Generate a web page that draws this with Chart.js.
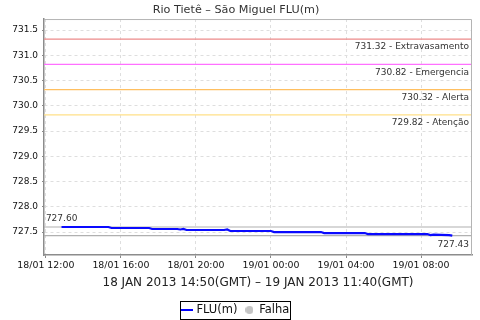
<!DOCTYPE html>
<html>
<head>
<meta charset="utf-8">
<script src="https://cdn.jsdelivr.net/npm/chart.js@4/dist/chart.umd.min.js"></script>
<style>
body{margin:0;background:#fff;}
</style>
</head>
<body>
<canvas id="chart" width="480" height="320"></canvas>
<script>
// Readings: minutes from 18/01 00:00 (local), level in m
const times  = [770, 920, 930, 1050, 1060, 1140, 1150, 1160, 1170, 1290, 1300, 1310, 1440, 1450, 1600, 1610, 1740, 1750, 1940, 1950, 1960, 2010, 2020];
const levels = [727.60, 727.60, 727.58, 727.58, 727.56, 727.56, 727.55, 727.56, 727.54, 727.54, 727.55, 727.52, 727.52, 727.50, 727.50, 727.48, 727.48, 727.46, 727.46, 727.44, 727.45, 727.44, 727.43];

// Limit lines
const limitValues = [731.32, 730.82, 730.32, 729.82];
const limitNames  = ["Extravasamento", "Emergencia", "Alerta", "Atenção"];
const limitColors = ["#ec8a8a", "#ff70ff", "#ffbf60", "#ffe088"];
const maxLevel = 727.60;
const minLevel = 727.43;

// Axes
const yTicks = [727.5, 728.0, 728.5, 729.0, 729.5, 730.0, 730.5, 731.0, 731.5];
const xTicks = [720, 960, 1200, 1440, 1680, 1920];
const xMin = 714, xMax = 2083;
const yMin = 727.045, yMax = 731.718;

const FONT = "'DejaVu Sans', sans-serif";

// Small legend icons
function icon(w, h, draw){
  const c = document.createElement("canvas");
  c.width = w; c.height = h;
  draw(c.getContext("2d"));
  return c;
}
const lineIcon = icon(12, 2, g=>{ g.fillStyle="#0000ff"; g.fillRect(0,0,12,2); });
const dotIcon = icon(8, 8, g=>{ g.fillStyle="#c4c4c4"; g.beginPath(); g.arc(4,4,4,0,Math.PI*2); g.fill(); });

function fmtTime(m){
  const day = 18 + Math.floor(m/1440);
  const h = Math.floor((m%1440)/60), mm = m%60;
  return day + "/01 " + String(h).padStart(2,"0") + ":" + String(mm).padStart(2,"0");
}

// Datasets
const datasets = [
  {
    label:"FLU(m)",
    data:times.map((t,i)=>({x:t, y:levels[i]})),
    borderColor:"#0a0aff",
    backgroundColor:"#0000ff",
    borderWidth:2.2,
    pointRadius:0,
    pointStyle:lineIcon,
    order:0
  },
  {
    label:"Falha",
    data:[],
    backgroundColor:"#c4c4c4",
    borderColor:"#c4c4c4",
    pointStyle:dotIcon,
    order:1
  }
];
limitValues.forEach((v,i)=>datasets.push({
  label:limitNames[i],
  data:[{x:xMin, y:v}, {x:xMax, y:v}],
  borderColor:limitColors[i],
  borderWidth:1.3,
  pointRadius:0,
  order:5
}));
[maxLevel, minLevel].forEach(v=>datasets.push({
  label:"ref",
  data:[{x:xMin, y:v}, {x:xMax, y:v}],
  borderColor:"#b0b0b0",
  borderWidth:1.2,
  pointRadius:0,
  order:5
}));

// Frame, limit labels, legend box
const extras = {
  id:"extras",
  afterDatasetsDraw(chart){
    const {ctx, chartArea:a, scales:{x, y}} = chart;
    ctx.save();
    ctx.strokeStyle = "#b4b4b4";
    ctx.lineWidth = 1;
    ctx.beginPath();
    ctx.moveTo(a.left, a.top + 0.5);
    ctx.lineTo(a.right - 0.5, a.top + 0.5);
    ctx.lineTo(a.right - 0.5, a.bottom);
    ctx.stroke();

    ctx.font = "9px " + FONT;
    ctx.fillStyle = "#333";
    ctx.textBaseline = "middle";
    ctx.textAlign = "right";
    limitValues.forEach((v,i)=>{
      ctx.fillText(v.toFixed(2) + " - " + limitNames[i], a.right - 3, y.getPixelForValue(v) + 8);
    });
    ctx.fillText(minLevel.toFixed(2), a.right - 3, y.getPixelForValue(minLevel) + 9);
    ctx.textAlign = "left";
    ctx.fillText(maxLevel.toFixed(2), x.getPixelForValue(xTicks[0]), y.getPixelForValue(maxLevel) - 8);
    ctx.restore();
  },
  afterDraw(chart){
    const hb = chart.legend.legendHitBoxes;
    if(!hb || !hb.length) return;
    const ctx = chart.ctx;
    const last = hb[hb.length-1];
    const l = Math.round(hb[0].left - 3), r = Math.round(last.left + last.width + 1);
    const cy = Math.round(hb[0].top + hb[0].height/2);
    ctx.save();
    ctx.strokeStyle = "#000";
    ctx.lineWidth = 1;
    ctx.strokeRect(l + 0.5, cy - 9 + 0.5, r - l, 18);
    ctx.restore();
  }
};

new Chart(document.getElementById("chart"),{
  type:"line",
  data:{datasets},
  plugins:[extras],
  options:{
    responsive:false,
    animation:false,
    layout:{padding:{left:0, right:8, top:0, bottom:-5.75}},
    plugins:{
      title:{
        display:true,
        text:"Rio Tietê – São Miguel FLU(m)",
        color:"#333",
        font:{family:FONT, size:11.2, weight:"normal"},
        padding:{top:3, bottom:2.6}
      },
      legend:{
        position:"bottom",
        labels:{
          usePointStyle:true,
          boxWidth:8,
          color:"#111",
          font:{family:FONT, size:11.5},
          padding:8,
          filter:item=>item.datasetIndex < 2
        }
      },
      tooltip:{enabled:false}
    },
    scales:{
      x:{
        type:"linear",
        min:xMin, max:xMax,
        afterBuildTicks:s=>{ s.ticks = xTicks.map(v=>({value:v})); },
        afterFit:s=>{ s.height = 41.25; },
        ticks:{
          callback:v=>fmtTime(v),
          color:"#111",
          font:{family:FONT, size:9.4},
          padding:2,
          maxRotation:0,
          autoSkip:false
        },
        grid:{color:"#dedede", tickColor:"#888", tickLength:3, tickBorderDash:[]},
        border:{color:"#8c8c8c", width:1.5, dash:[3,3]},
        title:{
          display:true,
          text:"18 JAN 2013 14:50(GMT) – 19 JAN 2013 11:40(GMT)",
          color:"#222",
          font:{family:FONT, size:12},
          padding:{top:0, bottom:6}
        }
      },
      y:{
        min:yMin, max:yMax,
        afterBuildTicks:s=>{ s.ticks = yTicks.map(v=>({value:v})); },
        afterFit:s=>{ s.width = 44; },
        ticks:{
          callback:v=>v.toFixed(1),
          color:"#111",
          font:{family:FONT, size:9},
          padding:4
        },
        grid:{color:"#dedede", tickColor:"#888", tickLength:2, tickBorderDash:[]},
        border:{color:"#8c8c8c", width:1.5, dash:[3,3]}
      }
    }
  }
});
</script>
</body>
</html>
